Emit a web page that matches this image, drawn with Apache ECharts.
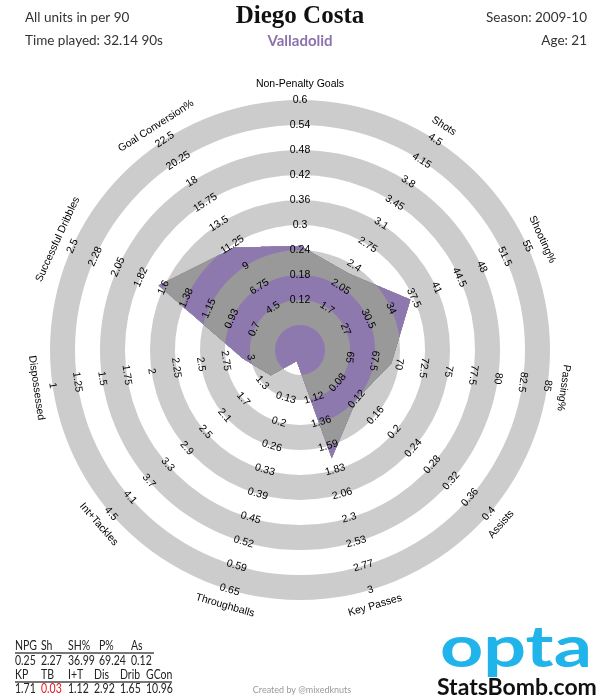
<!DOCTYPE html>
<html>
<head>
<meta charset="utf-8">
<script src="https://cdn.jsdelivr.net/npm/echarts@6/dist/echarts.min.js"></script>
<style>
html,body{margin:0;padding:0;background:#fff;}
#chart{width:600px;height:700px;}
</style>
</head>
<body>
<div id="chart"></div>
<script>
// ---------------- data ----------------
const playerName = 'Diego Costa';
const teamName = 'Valladolid';
const seasonText = 'Season: 2009-10';
const ageText = 'Age: 21';
const unitsText = 'All units in per 90';
const timePlayedText = 'Time played: 32.14 90s';

const categories = ['Non-Penalty Goals', 'Shots', 'Shooting%', 'Passing%', 'Assists',
  'Key Passes', 'Throughballs', 'Int+Tackles', 'Dispossessed', 'Successful Dribbles', 'Goal Conversion%'];
const values = [0.25, 2.27, 36.99, 69.24, 0.12, 1.71, 0.03, 1.12, 2.92, 1.65, 10.96];
// value at the centre and at the outer ring of each spoke
const axisLow  = [0,   1.0, 20, 60, 0,   0.65, 0,    0.5, 3.5, 0.25, 0];
const axisHigh = [0.6, 4.5, 55, 85, 0.4, 3,    0.65, 4.5, 1,   2.5,  22.5];
const tickLabels = [
  ['0.12', '0.18', '0.24', '0.3', '0.36', '0.42', '0.48', '0.54', '0.6'],
  ['1.7', '2.05', '2.4', '2.75', '3.1', '3.45', '3.8', '4.15', '4.5'],
  ['27', '30.5', '34', '37.5', '41', '44.5', '48', '51.5', '55'],
  ['65', '67.5', '70', '72.5', '75', '77.5', '80', '82.5', '85'],
  ['0.08', '0.12', '0.16', '0.2', '0.24', '0.28', '0.32', '0.36', '0.4'],
  ['1.12', '1.36', '1.59', '1.83', '2.06', '2.3', '2.53', '2.77', '3'],
  ['0.13', '0.2', '0.26', '0.33', '0.39', '0.45', '0.52', '0.59', '0.65'],
  ['1.3', '1.7', '2.1', '2.5', '2.9', '3.3', '3.7', '4.1', '4.5'],
  ['3', '2.75', '2.5', '2.25', '2', '1.75', '1.5', '1.25', '1'],
  ['0.7', '0.93', '1.15', '1.38', '1.6', '1.82', '2.05', '2.28', '2.5'],
  ['4.5', '6.75', '9', '11.25', '13.5', '15.75', '18', '20.25', '22.5']
];
const tableHead1 = ['NPG', 'Sh', 'SH%', 'P%', 'As'];
const tableHead2 = ['KP', 'TB', 'I+T', 'Dis', 'Drib', 'GCon'];
const tableRedIndex = 6; // TB value shown in red

// ---------------- styling / layout ----------------
const PURPLE = '#8e79ae';
const DARK = '#999999';
const LIGHT = '#cccccc';
const N = categories.length;
const STEP_ANGLE = 360 / N;
const NAME_R = 10.65;
const TICK_FONT = '10.5px "Liberation Sans", Arial, sans-serif';
const SANS = 'Lato, "Open Sans", sans-serif';

function radiusOf(i, v) { return 10 * (v - axisLow[i]) / (axisHigh[i] - axisLow[i]); }
const vertexR = values.map((v, i) => radiusOf(i, v));

function polyRadius(phi) {
  let i = Math.floor(phi / STEP_ANGLE) % N;
  const j = (i + 1) % N;
  const t = (phi - i * STEP_ANGLE) * Math.PI / 180;
  const alpha = STEP_ANGLE * Math.PI / 180;
  const a = vertexR[i], b = vertexR[j];
  const den = a * Math.sin(t) + b * Math.sin(alpha - t);
  return den === 0 ? 0 : a * b * Math.sin(alpha) / den;
}

function textRotation(phi) {
  const flip = phi > 100 && phi < 280;
  return (-phi + (flip ? 180 : 0)) * Math.PI / 180;
}

function renderItem(params, api) {
  const children = [];
  const M = N * 48;
  for (let k = 10; k >= 1; k--) {
    const pts = [];
    for (let s = 0; s < M; s++) {
      const phi = s * 360 / M;
      const r = Math.min(polyRadius(phi), k);
      pts.push(api.coord([r, phi]));
    }
    children.push({
      type: 'polygon', silent: true,
      shape: { points: pts },
      style: { fill: (k - 1) % 2 === 0 ? PURPLE : DARK, stroke: null, lineWidth: 0 }
    });
  }
  for (let i = 0; i < N; i++) {
    const phi = i * STEP_ANGLE;
    const rot = textRotation(phi);
    tickLabels[i].forEach((t, j) => {
      const p = api.coord([j + 2, phi]);
      children.push({
        type: 'text', silent: true, x: p[0], y: p[1], rotation: rot,
        style: { text: t, x: 0, y: 0, fill: '#000', font: TICK_FONT,
          align: 'center', verticalAlign: 'middle', textAlign: 'center', textVerticalAlign: 'middle' }
      });
    });
    const pn = api.coord([NAME_R, phi]);
    children.push({
      type: 'text', silent: true, x: pn[0], y: pn[1], rotation: rot,
      style: { text: categories[i], x: 0, y: 0, fill: '#000', font: TICK_FONT,
        align: 'center', verticalAlign: 'middle', textAlign: 'center', textVerticalAlign: 'middle' }
    });
  }
  return { type: 'group', children: children };
}

function txt(text, x, y, font, fill, align, sx) {
  return {
    type: 'text', x: x, y: y, silent: true, scaleX: sx || 1,
    style: { text: text, x: 0, y: 0, font: font, fill: fill,
      align: align, verticalAlign: 'middle', textAlign: align, textVerticalAlign: 'middle' }
  };
}

const graphics = [
  txt(unitsText, 25, 18, '13.5px ' + SANS, '#333', 'left'),
  txt(timePlayedText, 25, 41, '13.5px ' + SANS, '#333', 'left'),
  txt(playerName, 300, 17, 'bold 25px "Liberation Serif", serif', '#111', 'center'),
  txt(teamName, 300, 41, 'bold 15px ' + SANS, '#8b72ac', 'center'),
  txt(seasonText, 587, 18, '13.5px ' + SANS, '#333', 'right'),
  txt(ageText, 587, 41, '13.5px ' + SANS, '#333', 'right'),
  txt('Created by @mixedknuts', 302, 690, '9px ' + SANS, '#999', 'center'),
  txt('StatsBomb.com', 437, 688, 'bold 23px ' + SANS, '#111', 'left')
];
// opta logo (text)
graphics.push({
  type: 'text', x: 440, y: 648, scaleX: 1.3, silent: true,
  style: { text: 'opta', x: 0, y: 0, font: 'bold 58px ' + SANS, fill: '#20b4ea',
    align: 'left', verticalAlign: 'middle', textAlign: 'left', textVerticalAlign: 'middle' }
});
// table
const col1 = [15, 41, 68, 99, 131];
const col2 = [15, 41, 68, 94, 120, 146];
const TABLE_FONT = '12.5px ' + SANS;
const TSX = 0.84;
tableHead1.forEach((h, i) => graphics.push(txt(h, col1[i], 646, TABLE_FONT, '#222', 'left', TSX)));
tableHead1.forEach((h, i) => graphics.push(txt(values[i].toFixed(2), col1[i], 661, TABLE_FONT, '#222', 'left', TSX)));
tableHead2.forEach((h, i) => graphics.push(txt(h, col2[i], 675, TABLE_FONT, '#222', 'left', TSX)));
tableHead2.forEach((h, i) => {
  const idx = i + tableHead1.length;
  graphics.push(txt(values[idx].toFixed(2), col2[i], 689, TABLE_FONT, idx === tableRedIndex ? '#e8141b' : '#222', 'left', TSX));
});
graphics.push({ type: 'rect', silent: true, shape: { x: 15, y: 652, width: 139, height: 2 }, style: { fill: '#777' } });
graphics.push({ type: 'rect', silent: true, shape: { x: 15, y: 681, width: 157, height: 2 }, style: { fill: '#777' } });

const chart = echarts.init(document.getElementById('chart'), null, { renderer: 'canvas' });
chart.setOption({
  animation: false,
  backgroundColor: '#ffffff',
  polar: { center: [300, 350], radius: 250 },
  angleAxis: {
    type: 'value', min: 0, max: 360, startAngle: 90, clockwise: true,
    axisLine: { show: false }, axisTick: { show: false }, axisLabel: { show: false },
    splitLine: { show: false }, splitArea: { show: false }
  },
  radiusAxis: {
    type: 'value', min: 0, max: 10, interval: 1,
    axisLine: { show: false }, axisTick: { show: false }, axisLabel: { show: false },
    splitLine: { show: false },
    splitArea: { show: true, areaStyle: { color: ['#ffffff', LIGHT] } }
  },
  series: [{
    type: 'custom', coordinateSystem: 'polar', silent: true,
    data: [[0, 0]], renderItem: renderItem
  }],
  graphic: graphics
});
</script>
</body>
</html>
